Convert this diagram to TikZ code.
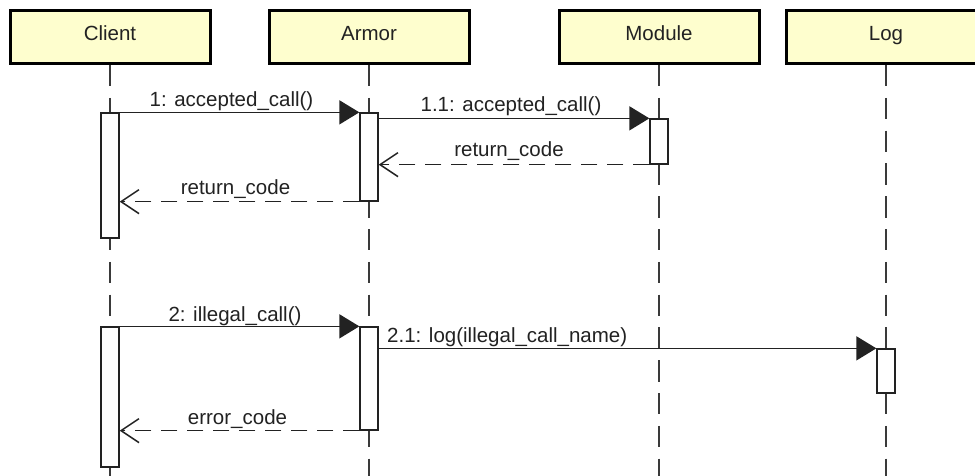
\documentclass[tikz,border=0pt]{standalone}
\usepackage{fontspec}
\setmainfont{Liberation Sans}
\usetikzlibrary{arrows.meta}
\definecolor{headfill}{HTML}{FEFECE}
\definecolor{ink}{HTML}{222222}
\definecolor{lifegrey}{HTML}{3A3A3A}
\begin{document}
\begin{tikzpicture}[x=1pt,y=-1pt,
  font=\fontsize{20.5}{24}\selectfont, text=ink,
  head/.style={draw=black, line width=3pt, fill=headfill, minimum width=200pt,
    minimum height=53pt, inner sep=0pt, text height=15pt, text depth=8pt},
  life/.style={draw=lifegrey, line width=1.5pt, dash pattern=on 21.3pt off 11.5pt},
  act/.style={draw=ink, line width=1.3pt, fill=white, minimum width=18pt, inner sep=0pt},
  msg/.style={draw=ink, line width=1.5pt, -{Triangle[length=20pt,width=24pt]}},
  ret/.style={draw=ink, line width=1.5pt, dash pattern=on 16pt off 10pt,
    -{Straight Barb[length=18pt,width=24pt,line width=1.5pt]}},
  lbl/.style={anchor=base, inner sep=0pt}]
\clip (0,0) rectangle (975,476);
\fill[white] (0,0) rectangle (975,476);

% participants
\node[head] (client) at (110,37) {Client};
\node[head] (armor)  at (369,37) {Armor};
\node[head] (module) at (659,37) {Module};
\node[head] (log)    at (886,37) {Log};

% lifelines
\foreach \p in {client,armor,module,log}
  \draw[life] (\p.south) -- ++(0,420);

% activations
\node[act, minimum height=125pt] (c1) at (110,175.5) {};
\node[act, minimum height=88pt]  (a1) at (369,157) {};
\node[act, minimum height=45pt]  (m1) at (659,141.5) {};
\node[act, minimum height=140pt] (c2) at (110,397) {};
\node[act, minimum height=103pt] (a2) at (369,378.5) {};
\node[act, minimum height=44pt]  (l1) at (886,371) {};

% first exchange
\draw[msg] (c1.north east) -- (a1.north west);
\draw[msg] (a1.east |- m1.north) -- (m1.north west);
\draw[ret] (m1.south west) -- (a1.east |- m1.south);
\draw[ret] (a1.south west) -- (c1.east |- a1.south);

% second exchange
\draw[msg] (c2.north east) -- (a2.north west);
\draw[msg] (a2.east |- l1.north) -- (l1.north west);
\draw[ret] (a2.south west) -- (c2.east |- a2.south);

% message labels
\node[lbl] (t1)  at (231.5,107) {1: accepted\_call()};
\node[lbl] (t11) at (511,112) {1.1: accepted\_call()};
\node[lbl] (t12) at (509,157) {return\_code};
\node[lbl] (t13) at (235.5,194) {return\_code};
\node[lbl] (t2)  at (235,321) {2: illegal\_call()};
\node[lbl, anchor=base west] (t21) at (387,342) {2.1: log(illegal\_call\_name)};
\node[lbl] (t22) at (237.5,424) {error\_code};
\end{tikzpicture}
\end{document}
